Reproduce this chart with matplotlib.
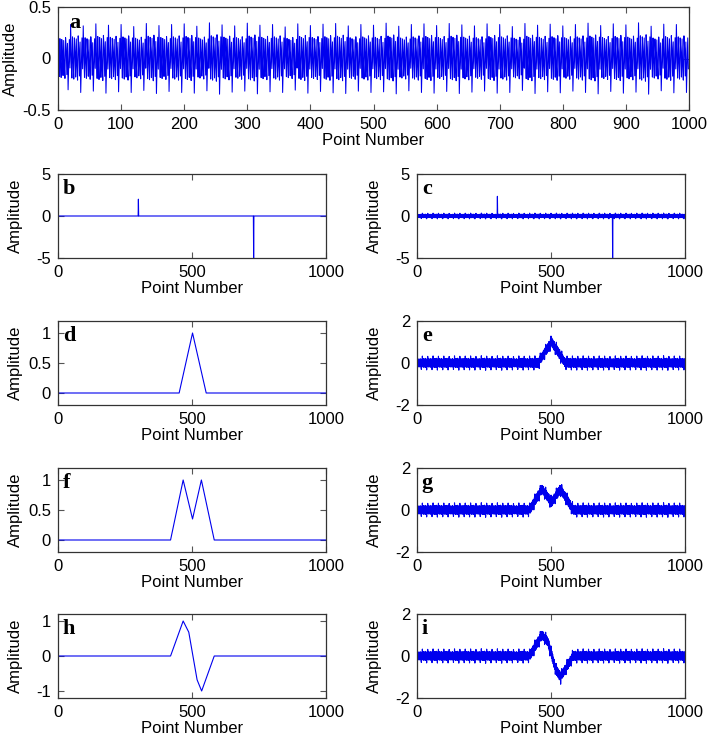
import numpy as np
import matplotlib.pyplot as plt

plt.rcParams['font.family'] = ['Liberation Sans', 'DejaVu Sans']
plt.rcParams['font.size'] = 12

# background interference: one 20-point cycle, repeated
noise_cycle = [0.33, 0.02, -0.19, 0.21, -0.04, -0.20, 0.20, 0.06, -0.18, 0.19,
               -0.08, -0.21, 0.22, 0.10, -0.17, 0.16, -0.33, -0.05, 0.20, -0.10]
# rough peak scaling of each of the 50 cycles
cycle_scale = [0.92, 1.00, 0.96, 1.02, 0.98, 1.00, 0.94, 1.03, 0.97, 1.00,
               1.02, 0.95, 1.05, 0.99, 0.96, 1.04, 0.98, 1.00, 0.93, 1.02,
               0.97, 1.01, 1.03, 0.96, 1.00, 0.98, 1.04, 0.95, 1.00, 1.02,
               0.97, 1.03, 0.99, 0.96, 1.02, 1.00, 0.94, 1.03, 0.98, 1.01,
               0.96, 1.00, 1.04, 0.97, 1.02, 0.99, 1.05, 0.95, 1.01, 1.00]

b_x = [0, 299, 300, 301, 729, 730, 731, 1000]
b_y = [0, 0, 2, 0, 0, -5, 0, 0]
d_x = [0, 452, 502, 553, 1000]
d_y = [0, 0, 1, 0, 0]
f_x = [0, 420, 467, 502, 535, 583, 1000]
f_y = [0, 0, 1, 0.35, 1, 0, 0]
h_x = [0, 420, 467, 488, 519, 536, 583, 1000]
h_y = [0, 0, 1, 0.68, -0.68, -1, 0, 0]

n = np.arange(1000)
noise = (np.array(cycle_scale)[:, None] * np.array(noise_cycle)[None, :]).ravel()

W, H = 709, 741
fig = plt.figure(figsize=(W / 100, H / 100), dpi=100)


def box(x0, y0, x1, y1):
    return fig.add_axes([x0 / W, 1 - y1 / H, (x1 - x0) / W, (y1 - y0) / H])


def style(ax, letter, ylim, yt, yl, xt, xl, ylab_x):
    ax.set_xlim(0, 1000)
    ax.set_ylim(*ylim)
    ax.set_xticks(xt)
    ax.set_xticklabels(xl)
    ax.set_yticks(yt)
    ax.set_yticklabels(yl)
    ax.tick_params(direction='in', top=True, right=True, length=4,
                   width=0.8, color='#555555', labelsize=12, pad=5)
    for s in ax.spines.values():
        s.set_linewidth(0.9)
        s.set_color('#333333')
    ax.set_xlabel('Point Number', fontsize=12, labelpad=1)
    ax.set_ylabel('Amplitude', fontsize=12)
    ax.yaxis.set_label_coords(ylab_x, 0.5)
    ax.text(0.018, 0.94, letter, transform=ax.transAxes, va='top', ha='left',
            fontsize=16, fontweight='bold', family='Liberation Serif')


xt3 = [0, 500, 1000]
xl3 = ['0', '500', '1000']

ax = box(58, 7, 689, 110)
ax.plot(n, noise, color='#0000ee', lw=0.75)
style(ax, 'a', (-0.5, 0.5), [-0.5, 0, 0.5], ['-0.5', '0', '0.5'],
      range(0, 1001, 100), [str(v) for v in range(0, 1001, 100)], -0.063)

rows = [174, 321, 468, 614]
hgt = 84
Lx, Rx, wd = 58, 417, 268

panels = [
    ('b', 'c', b_x, b_y, (-5, 5), [-5, 0, 5], ['-5', '0', '5'],
     (-5, 5), [-5, 0, 5], ['-5', '0', '5']),
    ('d', 'e', d_x, d_y, (-0.2, 1.2), [0, 0.5, 1], ['0', '0.5', '1'],
     (-2, 2), [-2, 0, 2], ['-2', '0', '2']),
    ('f', 'g', f_x, f_y, (-0.2, 1.2), [0, 0.5, 1], ['0', '0.5', '1'],
     (-2, 2), [-2, 0, 2], ['-2', '0', '2']),
    ('h', 'i', h_x, h_y, (-1.2, 1.2), [-1, 0, 1], ['-1', '0', '1'],
     (-2, 2), [-2, 0, 2], ['-2', '0', '2']),
]

for top, (lc, rc, px, py, yl1, yt1, ytl1, yl2, yt2, ytl2) in zip(rows, panels):
    axl = box(Lx, top, Lx + wd, top + hgt)
    axl.plot(px, py, color='#0000ee', lw=0.8)
    style(axl, lc, yl1, yt1, ytl1, xt3, xl3, -0.13)

    axr = box(Rx, top, Rx + wd, top + hgt)
    axr.plot(n, np.interp(n, px, py) + noise, color='#0000ee', lw=0.8)
    style(axr, rc, yl2, yt2, ytl2, xt3, xl3, -0.132)

fig.savefig('out.png', dpi=100)
